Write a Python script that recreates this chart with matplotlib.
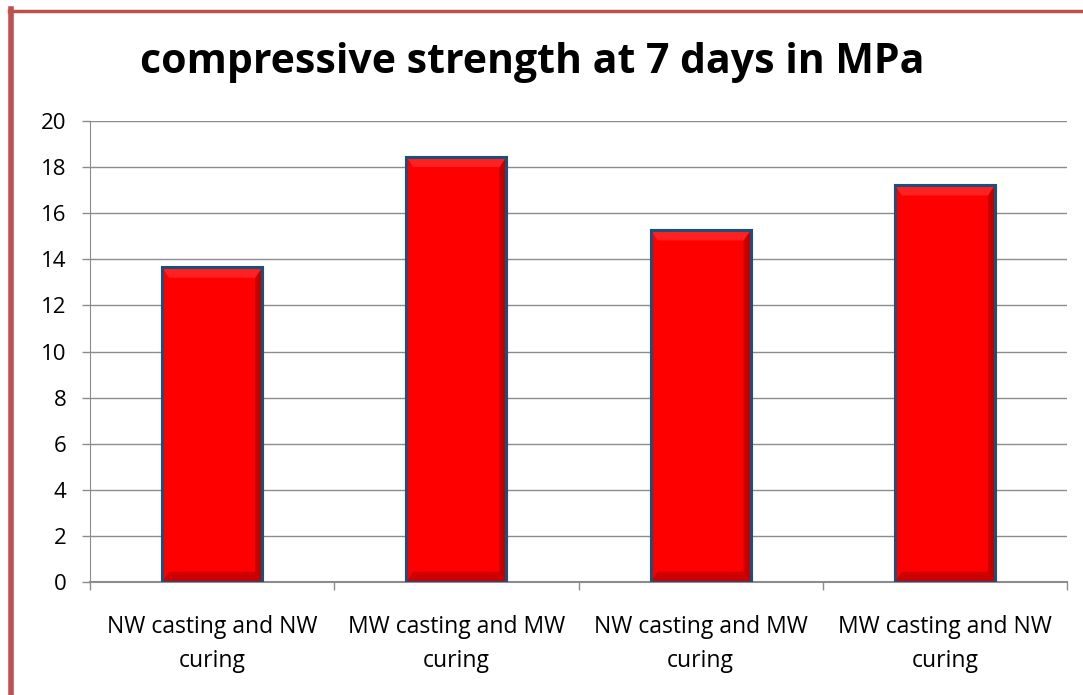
import matplotlib.pyplot as plt
from matplotlib.patches import Polygon
import matplotlib.lines as mlines

categories = ["NW casting and NW\ncuring", "MW casting and MW\ncuring",
              "NW casting and MW\ncuring", "MW casting and NW\ncuring"]
values = [13.65, 18.45, 15.27, 17.22]
yticks = [0, 2, 4, 6, 8, 10, 12, 14, 16, 18, 20]

plt.rcParams['font.family'] = ['Open Sans', 'DejaVu Sans']

fig = plt.figure(figsize=(10.83, 6.95), dpi=100)
ax = fig.add_axes([90/1083, 1-582/695, (1067-90)/1083, (582-121)/695])

x = list(range(len(categories)))
bw = 0.41
bars = ax.bar(x, values, width=bw, color='#FF0000', edgecolor='#1F4E79', linewidth=2.2, zorder=3)

# bevel shading
for b in bars:
    x0, y0 = b.get_x(), b.get_y()
    w, h = b.get_width(), b.get_height()
    dx = w * 0.07
    dy = 0.45
    ax.add_patch(Polygon([[x0+w, y0], [x0+w, y0+h], [x0+w-dx, y0+h-dy], [x0+w-dx, y0+dy]],
                         closed=True, facecolor='#A00000', edgecolor='none', zorder=4, alpha=0.6))
    ax.add_patch(Polygon([[x0, y0], [x0+w, y0], [x0+w-dx, y0+dy], [x0+dx, y0+dy]],
                         closed=True, facecolor='#B00000', edgecolor='none', zorder=4, alpha=0.6))
    ax.add_patch(Polygon([[x0, y0+h], [x0+w, y0+h], [x0+w-dx, y0+h-dy], [x0+dx, y0+h-dy]],
                         closed=True, facecolor='#FF3030', edgecolor='none', zorder=4, alpha=0.7))
    ax.add_patch(plt.Rectangle((x0, y0), w, h, facecolor='none', edgecolor='#1F4E79', linewidth=2.2, zorder=5))

ax.set_xlim(-0.5, len(categories) - 0.5)
ax.set_ylim(0, 20)
ax.set_yticks(yticks)
ax.set_yticklabels([str(v) for v in yticks], fontsize=16)
ax.yaxis.grid(True, color='#8C8C8C', linewidth=1.0, zorder=0)
ax.set_axisbelow(True)

ax.set_xticks(x)
ax.set_xticklabels(categories, fontsize=16.5, linespacing=1.55)
ax.tick_params(axis='x', length=0, pad=24)
ax.set_xticks([i - 0.5 for i in range(len(categories) + 1)], minor=True)
ax.tick_params(axis='x', which='minor', length=6, color='#8C8C8C', width=1)
ax.tick_params(axis='y', length=6, color='#8C8C8C', width=1, pad=11)

for s in ['top', 'right']:
    ax.spines[s].set_visible(False)
ax.spines['left'].set_color('#8C8C8C')
ax.spines['bottom'].set_color('#8C8C8C')
ax.spines['bottom'].set_linewidth(1.5)

fig.text(532/1083, 1-73/695, "compressive strength at 7 days in MPa", ha='center', va='baseline',
         fontsize=29.5, fontweight='bold')

# chart frame (left and top red lines)
fig.add_artist(mlines.Line2D([10.5/1083, 10.5/1083], [0, 1-9/695], transform=fig.transFigure,
                             color='#C0504D', linewidth=4))
fig.add_artist(mlines.Line2D([8.5/1083, 1], [1-10.5/695, 1-10.5/695], transform=fig.transFigure,
                             color='#C0504D', linewidth=2.5))

fig.savefig('out.png', dpi=100)
